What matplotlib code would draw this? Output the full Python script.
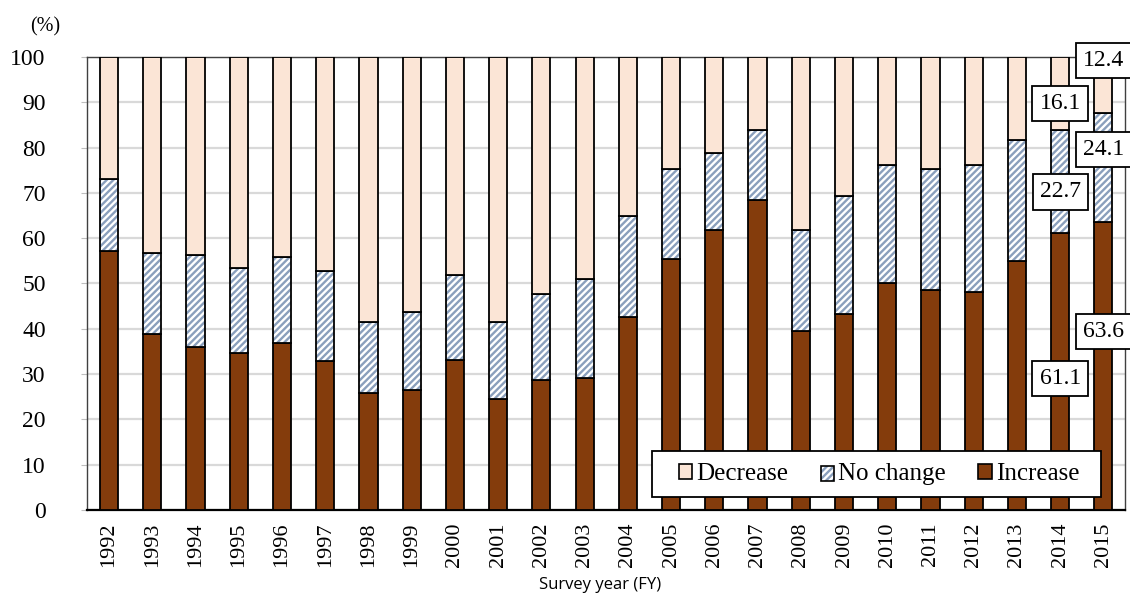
import matplotlib.pyplot as plt
import numpy as np
from matplotlib.patches import Patch, Rectangle

# Survey data (%)
years = [str(y) for y in range(1992, 2016)]
increase = [57.1, 38.8, 36.0, 34.6, 36.9, 32.8, 25.9, 26.4, 33.2, 24.6, 28.7, 29.1,
            42.7, 55.4, 61.7, 68.5, 39.5, 43.2, 50.0, 48.6, 48.1, 55.0, 61.1, 63.6]
no_change = [16.0, 18.0, 20.3, 18.9, 18.9, 20.0, 15.5, 17.2, 18.7, 16.8, 19.0, 21.9,
             22.3, 19.9, 17.2, 15.4, 22.2, 26.2, 26.2, 26.7, 28.1, 26.7, 22.7, 24.1]
decrease = [100 - a - b for a, b in zip(increase, no_change)]
decrease[-2] = 16.1
decrease[-1] = 12.4

c_dec = '#FBE5D6'
c_inc = '#843C0C'
c_hatch = '#8A9FBC'

plt.rcParams['hatch.linewidth'] = 1.7
serif = 'Liberation Serif'
hatch = '/////'


class HatchHandler:
    # legend key: blue-grey hatch with a black outline
    def legend_artist(self, legend, orig_handle, fontsize, handlebox):
        x0, y0 = handlebox.xdescent, handlebox.ydescent
        w, h = handlebox.width, handlebox.height
        tr = handlebox.get_transform()
        r1 = Rectangle((x0, y0), w, h, facecolor='white', edgecolor=c_hatch,
                       hatch=hatch, linewidth=0, transform=tr)
        r2 = Rectangle((x0, y0), w, h, fill=False, edgecolor='black',
                       linewidth=1.2, transform=tr)
        handlebox.add_artist(r1)
        handlebox.add_artist(r2)
        return r2


fig = plt.figure(figsize=(11.3, 5.96), dpi=100)
ax = fig.add_axes([0.0774, 0.1443, 0.9182, 0.7601])

x = np.arange(len(years))
w = 0.42
inc = np.array(increase)
nc = np.array(no_change)
dec = np.array(decrease)

ax.bar(x, inc, w, color=c_inc, edgecolor='black', linewidth=1.3, zorder=3)
# hatched middle segment: hatch in blue-grey, black outline drawn on top
ax.bar(x, nc, w, bottom=inc, facecolor='white', edgecolor=c_hatch, hatch=hatch,
       linewidth=0, zorder=3)
ax.bar(x, nc, w, bottom=inc, fill=False, edgecolor='black', linewidth=1.3, zorder=3)
ax.bar(x, dec, w, bottom=inc + nc, color=c_dec, edgecolor='black', linewidth=1.3, zorder=3)

ax.set_xlim(-0.5, len(years) - 0.5)
ax.set_ylim(0, 100)
ax.set_yticks(range(0, 101, 10))
ax.set_xticks(x)
ax.set_xticklabels(years, rotation=90, fontsize=16, family=serif)
for t in ax.get_yticklabels():
    t.set_family(serif)
    t.set_fontsize(17)
ax.tick_params(axis='y', length=4, color='#BFBFBF', pad=26)
ax.tick_params(axis='x', length=0, pad=9)
ax.yaxis.grid(True, color='#D9D9D9', linewidth=1.6, zorder=0)
ax.set_axisbelow(True)
for s in ax.spines.values():
    s.set_color('#404040')
    s.set_linewidth(1.0)
ax.spines['bottom'].set_color('black')
ax.spines['bottom'].set_linewidth(1.6)

fig.text(0.040, 0.955, '(%)', fontsize=14.5, family=serif, ha='center', va='center')
fig.text(0.531, 0.018, 'Survey year (FY)', fontsize=12, family='Open Sans',
         ha='center', va='center')

# data labels for the last two years, placed as in the reference
box = dict(boxstyle='square,pad=0.3', facecolor='white', edgecolor='black', linewidth=1.3)
i14, i15 = len(years) - 2, len(years) - 1
labels = [
    (i15, 99.3, decrease[-1]),
    (i14, 89.8, decrease[-2]),
    (i15, 79.5, no_change[-1]),
    (i14, 70.2, no_change[-2]),
    (i15, 39.4, increase[-1]),
    (i14, 29.0, increase[-2]),
]
for xi, yi, v in labels:
    ax.text(xi, yi, f'{v:.1f}', ha='center', va='center', fontsize=17, family=serif,
            bbox=box, zorder=6, clip_on=False)

# legend: own frame, entries centred inside it
ax.add_patch(Rectangle((0.544, 0.029), 0.433, 0.101, transform=ax.transAxes,
                       facecolor='white', edgecolor='black', linewidth=1.3, zorder=4))
h_dec = Patch(facecolor=c_dec, edgecolor='black', linewidth=1.2)
h_nc = Patch(facecolor='white')
h_inc = Patch(facecolor=c_inc, edgecolor='black', linewidth=1.2)
leg = ax.legend([h_dec, h_nc, h_inc], ['Decrease', 'No change', 'Increase'], ncol=3,
                loc='center', bbox_to_anchor=(0.763, 0.0795),
                handler_map={h_nc: HatchHandler()},
                prop={'family': serif, 'size': 18}, frameon=False,
                handlelength=0.55, handleheight=0.55, handletextpad=0.15,
                columnspacing=1.3, borderpad=0.2)
leg.set_zorder(5)

fig.savefig('out.png', dpi=100)
